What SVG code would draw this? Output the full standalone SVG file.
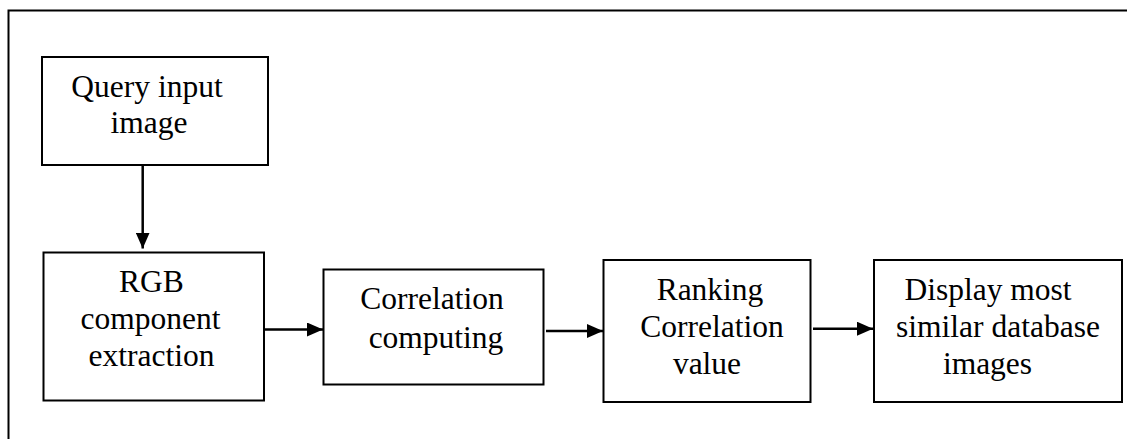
<svg xmlns="http://www.w3.org/2000/svg" width="1127" height="439" viewBox="0 0 1127 439">
<style>
.box{fill:#fff;stroke:#000;stroke-width:2}
.t{font-family:"Liberation Serif","Times New Roman",serif;font-size:31.5px;fill:#000;text-anchor:middle}
.c{stroke:#000;stroke-width:2.5;fill:none}
</style>
<defs>
<marker id="ah" viewBox="0 0 16 14" refX="16" refY="7" markerWidth="16" markerHeight="14" markerUnits="userSpaceOnUse" orient="auto">
<path d="M0,0 L16,7 L0,14 Z" fill="#000"/>
</marker>
</defs>
<g id="frame">
<path d="M8.5,439 V10.5 H1127" fill="none" stroke="#000" stroke-width="2"/>
</g>
<g id="n1">
<rect class="box" x="42" y="57" width="226" height="108"/>
<text class="t" x="147" y="97">Query input</text>
<text class="t" x="149" y="133">image</text>
</g>
<g id="n2">
<rect class="box" x="43.5" y="252.5" width="220.5" height="148"/>
<text class="t" x="151.5" y="292">RGB</text>
<text class="t" x="150.5" y="328.5">component</text>
<text class="t" x="151.5" y="365.5">extraction</text>
</g>
<g id="n3">
<rect class="box" x="323.5" y="269.5" width="220" height="115"/>
<text class="t" x="432" y="308.5">Correlation</text>
<text class="t" x="436" y="347.5">computing</text>
</g>
<g id="n4">
<rect class="box" x="603.5" y="260" width="207" height="142"/>
<text class="t" x="710" y="299.5">Ranking</text>
<text class="t" x="712" y="336.5">Correlation</text>
<text class="t" x="707" y="373.5">value</text>
</g>
<g id="n5">
<rect class="box" x="874" y="260" width="248" height="142"/>
<text class="t" x="988" y="300">Display most</text>
<text class="t" x="998" y="336.5">similar database</text>
<text class="t" x="987.5" y="373.5">images</text>
</g>
<g id="connectors">
<line class="c" x1="142.7" y1="165" x2="142.7" y2="248.5" marker-end="url(#ah)"/>
<line class="c" x1="264" y1="329.5" x2="323" y2="329.5" marker-end="url(#ah)"/>
<line class="c" x1="546" y1="331" x2="603" y2="331" marker-end="url(#ah)"/>
<line class="c" x1="813" y1="328.7" x2="873" y2="328.7" marker-end="url(#ah)"/>
</g>
</svg>
